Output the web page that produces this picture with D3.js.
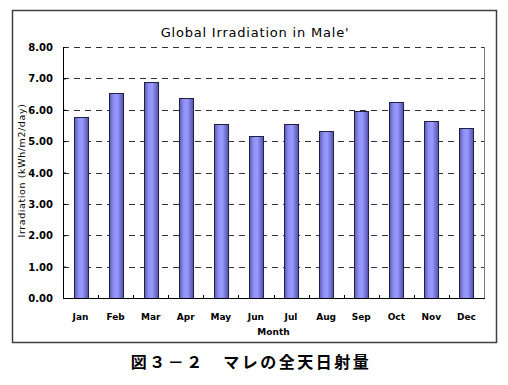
<!DOCTYPE html>
<html>
<head>
<meta charset="utf-8">
<script src="https://cdn.jsdelivr.net/npm/d3@7"></script>
<style>
  body { margin: 0; background: #fff; }
  text { font-family: "DejaVu Sans", "Noto Sans CJK JP", sans-serif; fill: #000; }
</style>
</head>
<body>
<div id="chart"></div>
<script>
// Chart data
const months = ["Jan", "Feb", "Mar", "Apr", "May", "Jun", "Jul", "Aug", "Sep", "Oct", "Nov", "Dec"];
const irradiation = [5.76, 6.53, 6.88, 6.38, 5.53, 5.15, 5.53, 5.32, 5.96, 6.25, 5.65, 5.41];
const yTicks = [0, 1, 2, 3, 4, 5, 6, 7, 8];

const svgWidth = 508;
const svgHeight = 385;

const margin = { top: 47, right: 24, bottom: 87, left: 63 };
const width = svgWidth - margin.left - margin.right;
const height = svgHeight - margin.top - margin.bottom;

const svg = d3.select("#chart")
    .append("svg")
    .attr("width", svgWidth)
    .attr("height", svgHeight);

// Bar gradient
const grad = svg.append("defs").append("linearGradient")
    .attr("id", "barGrad")
    .attr("x1", "0%").attr("x2", "100%").attr("y1", "0%").attr("y2", "0%");
grad.append("stop").attr("offset", "0%").attr("stop-color", "#5a5ab4");
grad.append("stop").attr("offset", "30%").attr("stop-color", "#9090f4");
grad.append("stop").attr("offset", "55%").attr("stop-color", "#9a9aff");
grad.append("stop").attr("offset", "100%").attr("stop-color", "#5050a8");

// Outer frame
svg.append("rect")
    .attr("x", 12.5).attr("y", 10.5)
    .attr("width", 484).attr("height", 332)
    .attr("fill", "none")
    .attr("stroke", "#404040")
    .attr("stroke-width", 1.5);

const chartGroup = svg.append("g")
    .attr("transform", `translate(${margin.left}, ${margin.top})`);

const x = d3.scaleBand()
    .domain(months)
    .range([0, width])
    .paddingInner(0.6)
    .paddingOuter(0.3);

const y = d3.scaleLinear()
    .domain([0, 8])
    .range([height, 0]);

// Plot area right border
chartGroup.append("line")
    .attr("x1", width + 0.5).attr("x2", width + 0.5)
    .attr("y1", 0).attr("y2", height)
    .attr("stroke", "#808080");

// Dashed gridlines
chartGroup.selectAll(".grid")
    .data(yTicks.filter(d => d > 0))
    .enter()
    .append("line")
    .attr("class", "grid")
    .attr("x1", 0).attr("x2", width)
    .attr("y1", d => Math.round(y(d)) + 0.5)
    .attr("y2", d => Math.round(y(d)) + 0.5)
    .attr("stroke", "#333")
    .attr("stroke-dasharray", "6,5");

// Bars
chartGroup.selectAll(".bar")
    .data(irradiation)
    .enter()
    .append("rect")
    .attr("class", "bar")
    .attr("x", (d, i) => Math.round(x(months[i])) + 0.5)
    .attr("y", d => Math.round(y(d)) + 0.5)
    .attr("width", x.bandwidth())
    .attr("height", d => height - Math.round(y(d)))
    .attr("fill", "url(#barGrad)")
    .attr("stroke", "#202040")
    .attr("stroke-width", 1);

// Y axis
const leftAxis = d3.axisLeft(y)
    .tickValues(yTicks)
    .tickSizeInner(-3)
    .tickSizeOuter(0)
    .tickPadding(10)
    .tickFormat(d3.format(".2f"));

const yAxis = chartGroup.append("g").call(leftAxis);
yAxis.select(".domain").attr("stroke", "#000");
yAxis.selectAll("text").attr("font-size", "10px").attr("font-weight", "bold").attr("dy", "0.35em");

// X axis: ticks at category boundaries pointing inward
chartGroup.append("line")
    .attr("x1", 0).attr("x2", width + 1)
    .attr("y1", height + 0.5).attr("y2", height + 0.5)
    .attr("stroke", "#000");

const step = x.step();
chartGroup.selectAll(".xtick")
    .data(d3.range(1, months.length))
    .enter()
    .append("line")
    .attr("class", "xtick")
    .attr("x1", d => Math.round(d * step) + 0.5)
    .attr("x2", d => Math.round(d * step) + 0.5)
    .attr("y1", height).attr("y2", height - 3)
    .attr("stroke", "#000");

chartGroup.selectAll(".xlabel")
    .data(months)
    .enter()
    .append("text")
    .attr("class", "xlabel")
    .attr("x", d => x(d) + x.bandwidth() / 2)
    .attr("y", height + 22)
    .attr("text-anchor", "middle")
    .attr("font-size", "9px")
    .attr("font-weight", "bold")
    .text(d => d);

// Axis titles
chartGroup.append("text")
    .attr("x", width / 2)
    .attr("y", height + 37)
    .attr("text-anchor", "middle")
    .attr("font-size", "9px")
    .attr("font-weight", "bold")
    .text("Month");

chartGroup.append("text")
    .attr("transform", `translate(${25 - margin.left}, ${height / 2 - 2}) rotate(-90)`)
    .attr("text-anchor", "middle")
    .attr("font-size", "9.5px")
    .attr("letter-spacing", "0.6px")
    .text("Irradiation (kWh/m2/day)");

// Chart title
svg.append("text")
    .attr("x", 255)
    .attr("y", 37)
    .attr("text-anchor", "middle")
    .attr("font-size", "13px")
    .attr("letter-spacing", "0.8px")
    .text("Global Irradiation in Male'");

// Figure caption
svg.append("text")
    .attr("x", 251)
    .attr("y", 368)
    .attr("text-anchor", "middle")
    .attr("font-size", "16px")
    .attr("font-weight", "600")
    .attr("letter-spacing", "2.5px")
    .style("font-family", "'Noto Sans CJK JP', sans-serif")
    .text("図３－２　マレの全天日射量");
</script>
</body>
</html>
